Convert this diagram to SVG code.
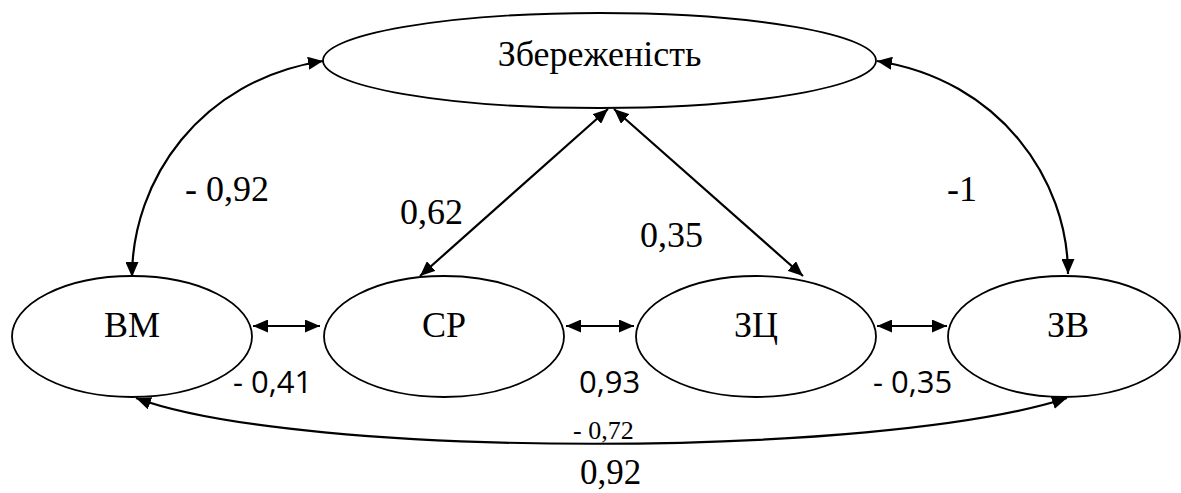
<svg xmlns="http://www.w3.org/2000/svg" width="1181" height="493" viewBox="0 0 1181 493">
<style>
.node{fill:#fff;stroke:#000;stroke-width:1.8}
.sans{font-family:'Open Sans','Liberation Sans',sans-serif;font-size:31px;fill:#000}
.edge{fill:none;stroke:#000;stroke-width:2.2;marker-start:url(#ah);marker-end:url(#ah)}
</style>
<defs>
<marker id="ah" markerUnits="userSpaceOnUse" markerWidth="15" markerHeight="13" refX="15" refY="6.5" orient="auto-start-reverse">
<path d="M0,0 L15,6.5 L0,13 z" fill="#000"/>
</marker>
</defs>
<g id="connectors">
<path class="edge" d="M132,277 C132,180 200,80 323,61"/>
<path class="edge" d="M1068,274 C1068,180 1000,80 877,61"/>
<path class="edge" d="M608,109 L420,276"/>
<path class="edge" d="M614,109 L803,276"/>
<path class="edge" d="M253,326 L320,326"/>
<path class="edge" d="M566,326 L634,326"/>
<path class="edge" d="M877,326 L947,326"/>
<path class="edge" d="M136,398 C300,459 880,459 1067,398"/>
</g>
<g font-family="Liberation Serif" fill="#000">
<g id="node-zberezhenist">
<ellipse class="node" cx="599.5" cy="60.5" rx="276.5" ry="47.5"/>
<text x="599.5" y="66" font-size="36" text-anchor="middle">Збереженість</text>
</g>
<g id="node-vm">
<ellipse class="node" cx="132" cy="336.5" rx="120" ry="60.5"/>
<text x="132" y="337" font-size="36" text-anchor="middle">ВМ</text>
</g>
<g id="node-sr">
<ellipse class="node" cx="444" cy="336.5" rx="120" ry="60.5"/>
<text x="444" y="337" font-size="36" text-anchor="middle">СР</text>
</g>
<g id="node-ztc">
<ellipse class="node" cx="756" cy="336.5" rx="120" ry="60.5"/>
<text x="756" y="337" font-size="36" text-anchor="middle">ЗЦ</text>
</g>
<g id="node-zv">
<ellipse class="node" cx="1064" cy="336.5" rx="116" ry="60.5"/>
<text x="1068" y="337" font-size="36" text-anchor="middle">ЗВ</text>
</g>
<g id="labels">
<text x="185" y="201" font-size="36">- 0,92</text>
<text x="400" y="224" font-size="36">0,62</text>
<text x="640" y="247" font-size="36">0,35</text>
<text x="947" y="201" font-size="36">-1</text>
<text class="sans" x="233" y="393">- 0,41</text>
<text class="sans" x="579" y="393">0,93</text>
<text class="sans" x="873" y="393">- 0,35</text>
<text x="573" y="439" font-size="26">- 0,72</text>
<text x="580" y="484" font-size="35">0,92</text>
</g>
</g>
</svg>
